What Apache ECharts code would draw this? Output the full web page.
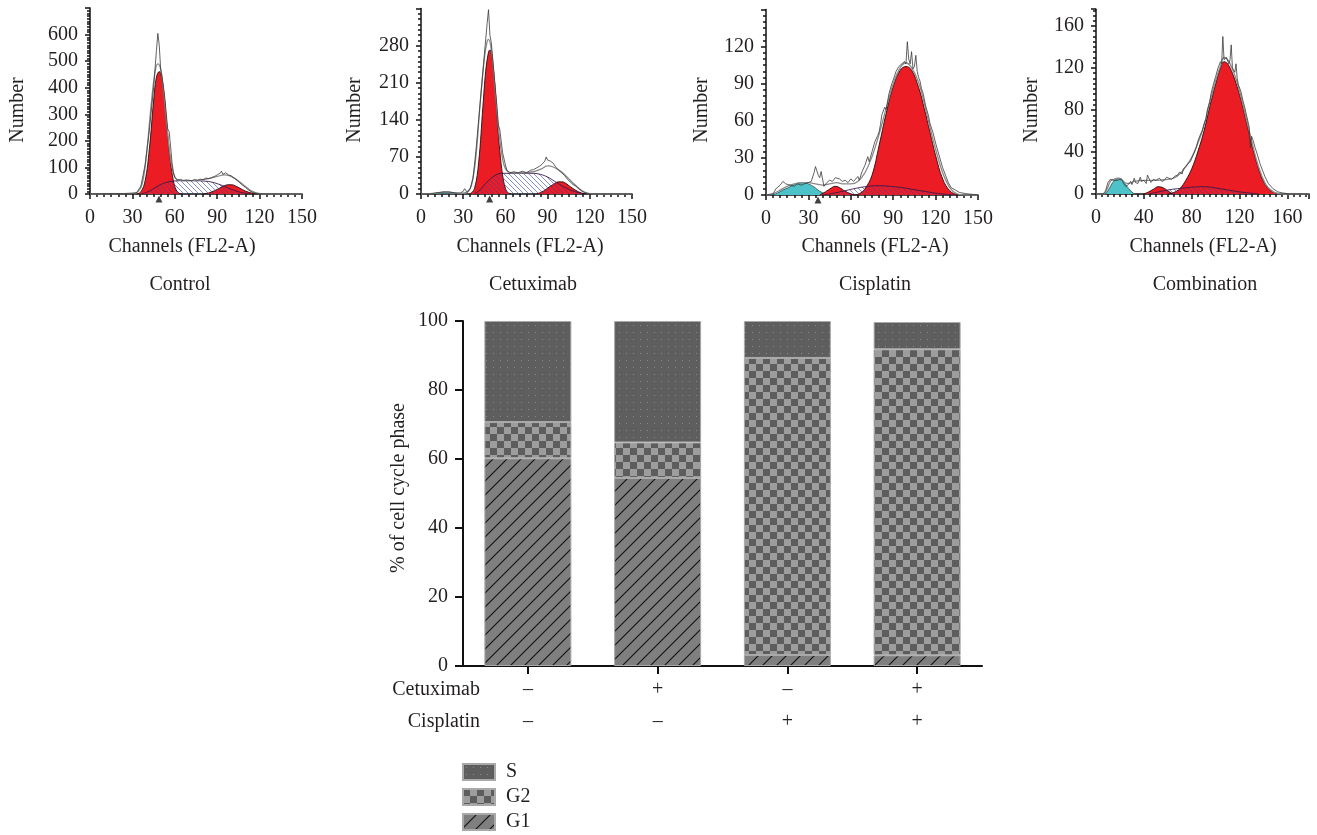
<!DOCTYPE html>
<html>
<head>
<meta charset="utf-8">
<script src="https://cdn.jsdelivr.net/npm/echarts@6/dist/echarts.min.js"></script>
<style>
html,body{margin:0;padding:0;background:#fff;}
#chart{width:1317px;height:835px;}
</style>
</head>
<body>
<div id="chart"></div>
<script>
// ---------------- DATA ----------------
// Histogram panels: [channel, count]
const ctrlRaw = [[0,0],[5,1],[10,1],[15,2],[20,2],[25,2],[30,3],[33,5],[36,30],[39,110],[42,240],[45,400],[47,540],[48,605],[49,560],[50,470],[51,440],[53,360],[54,300],[55,245],[56,235],[57,180],[58,120],[59,80],[60,62],[62,52],[64,55],[66,50],[68,53],[70,52],[72,50],[74,55],[76,52],[78,56],[80,54],[82,60],[84,58],[86,62],[88,66],[90,72],[92,78],[93,86],[94,74],[96,80],[98,72],[100,68],[102,60],[104,52],[106,42],[108,33],[110,25],[112,16],[114,9],[116,4],[118,2],[120,1],[125,0],[150,0]];
const ctrlFit = [[0,0],[30,2],[34,8],[37,40],[40,150],[43,320],[46,460],[48,490],[50,470],[52,390],[54,280],[56,175],[58,100],[60,65],[62,54],[66,51],[72,50],[78,52],[84,58],[90,66],[95,72],[98,70],[102,60],[106,45],[110,28],[114,12],[118,4],[122,0],[150,0]];
const ctrlG1 = [[33,0],[36,8],[39,50],[42,170],[45,350],[47,440],[49,461],[51,430],[53,340],[55,220],[57,120],[59,50],[61,15],[63,3],[65,0]];
const ctrlS = [[36,0],[40,6],[44,17],[48,30],[52,40],[56,46],[60,49],[66,50],[74,50],[82,48],[86,45],[90,39],[94,31],[98,22],[102,14],[106,7],[110,3],[114,0]];
const ctrlG2 = [[80,0],[84,4],[88,12],[92,23],[95,31],[98,35],[100,35],[103,30],[106,22],[110,11],[114,4],[118,0]];
const ctrlSub = [];
const ctrlGate = [[48.8,0]];

const cetRaw = [[0,0],[6,0],[10,2],[13,3],[16,4],[20,4],[24,2],[28,2],[30,5],[31,10],[33,3],[35,10],[37,30],[39,80],[41,140],[43,200],[45,262],[47,322],[48,348],[49,300],[50,285],[52,225],[54,165],[55,130],[56,122],[57,100],[58,78],[60,55],[61,45],[63,40],[66,42],[69,40],[72,43],[75,40],[78,45],[80,46],[82,49],[84,52],[86,56],[88,62],[89,70],[90,64],[92,62],[94,58],[96,50],[98,45],[100,40],[102,35],[104,28],[106,23],[108,18],[110,15],[112,10],[114,6],[116,3],[118,1],[120,0],[150,0]];
const cetFit = [[0,0],[10,1],[16,3],[22,2],[28,1],[33,4],[36,18],[39,70],[42,170],[45,255],[47,288],[48,292],[50,272],[52,218],[54,155],[56,102],[58,66],[60,48],[63,41],[70,40],[80,42],[86,48],[90,53],[94,51],[98,45],[102,37],[106,26],[110,16],[114,7],[118,2],[122,0],[150,0]];
const cetG1 = [[35,0],[38,10],[41,60],[44,165],[46,232],[48,268],[49,272],[50,265],[52,220],[54,150],[56,82],[58,36],[60,11],[62,2],[64,0]];
const cetS = [[38,0],[42,8],[46,20],[50,30],[54,37],[57,39],[70,39],[80,39],[85,37],[90,32],[95,24],[100,16],[105,9],[110,4],[115,0]];
const cetG2 = [[82,0],[86,4],[90,11],[94,18],[98,23],[100,23],[103,20],[106,14],[110,7],[114,2],[118,0]];
const cetSub = [[8,0],[12,2],[16,3.5],[20,3.5],[24,2],[28,0]];
const cetGate = [[48.8,0]];

const cisRaw = [[0,0],[5,1],[7,5],[10,8],[12,11],[14,9],[17,8],[20,7],[22,9],[25,8],[27,9],[30,10],[32,11],[34,18],[35,23],[36,24],[37,16],[38,14],[39,19],[41,7],[43,10],[45,12],[47,11],[49,14],[52,13],[54,11],[56,12],[58,10],[60,13],[62,11],[63,10],[65,15],[66,12],[68,19],[70,24],[72,31],[73,27],[75,35],[77,43],[79,48],[80,51],[81,57],[82,65],[84,71],[85,69],[87,82],[89,90],[90,93],[92,100],[94,104],[96,106],[98,108],[99,106],[100,124],[101,110],[102,106],[103,116],[104,102],[105,104],[106,113],[107,100],[108,95],[109,92],[110,86],[111,83],[113,72],[115,64],[116,58],[118,51],[120,42],[121,38],[123,30],[125,22],[127,16],[129,10],[131,6],[134,4],[137,2],[142,1],[150,0]];
const cisFit = [[0,0],[5,1],[10,4],[15,7],[20,9],[25,10],[30,10],[35,9],[40,8],[45,9],[50,10],[55,9],[60,9],[65,11],[70,18],[75,31],[80,49],[85,70],[90,90],[95,103],[99,107],[103,103],[108,91],[112,74],[116,55],[120,37],[125,18],[130,6],[135,1],[140,0],[150,0]];
const cisSub = [[4,0],[8,1.5],[12,4],[16,6],[20,8.5],[24,9.8],[27,10],[30,9],[34,6.5],[38,3],[42,1],[45,0]];
const cisG1 = [[38,0],[42,2.5],[46,5.5],[49,7],[52,6],[56,3],[60,1],[63,0]];
const cisS = [[40,0],[48,1.5],[56,3.5],[64,5.5],[72,7],[80,7.5],[88,7],[96,6],[104,4.5],[112,3],[120,1.5],[128,0.5],[134,0]];
const cisG2 = [[62,0],[66,1],[70,5],[75,16],[80,40],[85,66],[90,88],[95,101],[99,104],[103,101],[108,87],[112,70],[116,51],[120,32],[125,13],[130,3.5],[135,0.5],[140,0]];
const cisGate = [[36.8,0]];

const comRaw = [[0,0],[6,0],[8,3],[10,11],[12,14],[13,15],[15,13],[16,14],[18,13],[20,14],[22,13],[23,10],[25,7],[26,6],[27,9],[29,12],[30,9],[32,15],[33,11],[35,10],[37,16],[38,12],[40,13],[42,10],[43,18],[45,13],[46,11],[48,14],[50,13],[53,15],[55,12],[57,13],[59,16],[61,15],[63,14],[66,17],[68,18],[70,21],[72,19],[73,24],[75,26],[77,29],[79,31],[80,34],[82,39],[84,45],[85,50],[87,56],[89,61],[90,66],[92,72],[93,80],[95,88],[96,95],[98,104],[100,112],[102,120],[104,126],[105,124],[106,150],[107,128],[109,130],[111,124],[112,128],[113,142],[114,120],[116,116],[117,124],[118,110],[119,104],[121,98],[123,88],[124,84],[126,74],[128,64],[129,44],[130,55],[131,52],[133,44],[135,37],[137,29],[139,23],[141,17],[144,10],[148,5],[152,2],[156,1],[162,0],[178,0]];
const comFit = [[0,0],[6,0],[9,4],[12,12],[15,14],[18,15],[21,14],[24,11],[27,10],[32,12],[40,13],[50,13],[60,14],[65,15],[70,19],[75,26],[80,35],[85,48],[90,64],[95,87],[100,108],[104,122],[107,130],[110,128],[114,119],[118,106],[122,89],[126,70],[130,51],[134,33],[138,19],[142,9],[146,4],[150,1],[156,0],[178,0]];
const comSub = [[8,0],[11,5],[14,11],[17,14],[20,15],[23,12],[26,7],[29,3],[32,0]];
const comG1 = [[40,0],[44,2],[48,4.5],[52,7],[56,6],[60,3],[64,0]];
const comS = [[44,0],[50,1.5],[56,3],[64,4.5],[72,5.5],[80,6.5],[88,7],[96,6.5],[104,5],[112,3.5],[120,2],[128,1],[136,0]];
const comG2 = [[60,0],[65,1.5],[70,5],[75,13],[80,24],[85,40],[90,59],[95,83],[100,105],[104,120],[107,126],[110,124],[114,115],[118,102],[122,86],[126,67],[130,48],[134,31],[138,17],[142,8],[146,3],[150,1],[154,0]];
const comGate = [];

const panelTitles = ['Control', 'Cetuximab', 'Cisplatin', 'Combination'];

// Bar chart (% of cell cycle phase)
const cetuximabRow = ['–', '+', '–', '+'];
const cisplatinRow = ['–', '–', '+', '+'];
const phaseG1 = [60.2, 54.5, 3.2, 3.1];
const phaseG2 = [10.5, 10.3, 86.1, 88.7];
const phaseS  = [29.3, 35.2, 10.7, 7.9];
const legendNames = ['S', 'G2', 'G1'];

// ---------------- STYLE ----------------
const FONT = "'Liberation Serif', 'Times New Roman', serif";
const TXT = '#231f20';
const RED = '#ec1c24';
const CYAN = '#4ec2c9';

function canvas(w, h, draw) {
  const c = document.createElement('canvas');
  c.width = w; c.height = h;
  draw(c.getContext('2d'), w, h);
  return c;
}
const hatchPat = { image: canvas(5, 5, (g, w, h) => {
  g.strokeStyle = 'rgba(55,65,170,0.85)'; g.lineWidth = 0.7;
  g.beginPath(); g.moveTo(0, 0); g.lineTo(w, h);
  g.moveTo(-1, h - 1); g.lineTo(1, h + 1); g.moveTo(w - 1, -1); g.lineTo(w + 1, 1); g.stroke();
}), repeat: 'repeat' };
const patS = { image: canvas(7, 7, (g) => {
  g.fillStyle = '#5e5e5e'; g.fillRect(0, 0, 7, 7);
  g.fillStyle = '#8a8a8a'; g.fillRect(3, 3, 1, 1);
}), repeat: 'repeat' };
const patG2 = { image: canvas(14, 14, (g) => {
  g.fillStyle = '#9d9d9d'; g.fillRect(0, 0, 14, 14);
  g.fillStyle = '#5d5d5d'; g.fillRect(0, 0, 7, 7); g.fillRect(7, 7, 7, 7);
}), repeat: 'repeat' };
const patG1 = { image: canvas(14, 14, (g, w, h) => {
  g.fillStyle = '#7f7f7f'; g.fillRect(0, 0, w, h);
  g.strokeStyle = '#111'; g.lineWidth = 1.1;
  g.beginPath(); g.moveTo(0, h); g.lineTo(w, 0);
  g.moveTo(-1, 1); g.lineTo(1, -1); g.moveTo(w - 1, h + 1); g.lineTo(w + 1, h - 1); g.stroke();
}), repeat: 'repeat' };

// panel layout
const layout = [
  { left: 90,   top: 8.1, width: 212, height: 185.9, xmax: 150, xint: 30, xminor: 6, ymax: 700, yint: 100, yminor: 10 },
  { left: 421,  top: 8.6, width: 211, height: 185.4, xmax: 150, xint: 30, xminor: 6, ymax: 350, yint: 70,  yminor: 7 },
  { left: 766,  top: 9.6, width: 212, height: 185.4, xmax: 150, xint: 30, xminor: 6, ymax: 150, yint: 30,  yminor: 6 },
  { left: 1096, top: 9.2, width: 213, height: 184.8, xmax: 178, xint: 40, xminor: 8, ymax: 176, yint: 40,  yminor: 8 }
];
const panelData = [
  { raw: ctrlRaw, fit: ctrlFit, g1: ctrlG1, s: ctrlS, g2: ctrlG2, sub: ctrlSub, gate: ctrlGate, subColor: CYAN },
  { raw: cetRaw, fit: cetFit, g1: cetG1, s: cetS, g2: cetG2, sub: cetSub, gate: cetGate, subColor: '#2f6f78' },
  { raw: cisRaw, fit: cisFit, g1: cisG1, s: cisS, g2: cisG2, sub: cisSub, gate: cisGate, subColor: CYAN },
  { raw: comRaw, fit: comFit, g1: comG1, s: comS, g2: comG2, sub: comSub, gate: comGate, subColor: CYAN }
];

const grids = [], xAxes = [], yAxes = [], series = [], graphics = [];
const axisLineStyle = { color: '#111', width: 1.5 };
const labelStyle = { fontFamily: FONT, fontSize: 20, color: TXT };

layout.forEach((L, i) => {
  grids.push({ left: L.left, top: L.top, width: L.width, height: L.height });
  xAxes.push({
    type: 'value', gridIndex: i, min: 0, max: L.xmax, interval: L.xint,
    axisLine: { show: true, onZero: false, lineStyle: axisLineStyle },
    axisTick: { show: true, length: 5, lineStyle: { color: '#111', width: 1.5 } },
    minorTick: { show: true, splitNumber: L.xminor, length: 3, lineStyle: { color: '#111', width: 1.5 } },
    splitLine: { show: false },
    axisLabel: Object.assign({ margin: 14, showMaxLabel: L.xmax % L.xint === 0 }, labelStyle)
  });
  yAxes.push({
    type: 'value', gridIndex: i, min: 0, max: L.ymax, interval: L.yint,
    axisLine: { show: true, onZero: false, lineStyle: axisLineStyle },
    axisTick: { show: true, length: 5, lineStyle: { color: '#111', width: 1.5 } },
    minorTick: { show: true, splitNumber: L.yminor, length: 3, lineStyle: { color: '#111', width: 1.5 } },
    splitLine: { show: false },
    axisLabel: Object.assign({ margin: 12, showMaxLabel: false }, labelStyle)
  });
  const D = panelData[i];
  const base = { type: 'line', xAxisIndex: i, yAxisIndex: i, showSymbol: false, symbol: 'none', silent: true, animation: false };
  if (D.sub.length) series.push(Object.assign({}, base, { name: 'p' + i + 'sub', data: D.sub, smooth: 0.4, z: 2,
    lineStyle: { color: '#1d4f55', width: 0.8 }, areaStyle: { color: D.subColor, opacity: 1 } }));
  series.push(Object.assign({}, base, { name: 'p' + i + 'g1', data: D.g1, smooth: 0.4, z: 3,
    lineStyle: { color: '#2a0a0a', width: 0.9 }, areaStyle: { color: RED, opacity: 1 } }));
  series.push(Object.assign({}, base, { name: 'p' + i + 'g2', data: D.g2, smooth: 0.4, z: 3,
    lineStyle: { color: '#2a0a0a', width: 0.9 }, areaStyle: { color: RED, opacity: 1 } }));
  series.push(Object.assign({}, base, { name: 'p' + i + 's', data: D.s, smooth: 0.4, z: 4,
    lineStyle: { color: '#3a1a4a', width: 0.9 }, areaStyle: { color: hatchPat, opacity: 1 } }));
  series.push(Object.assign({}, base, { name: 'p' + i + 'fit', data: D.fit, smooth: 0.4, z: 5,
    lineStyle: { color: '#8a8a8a', width: 1.3 } }));
  series.push(Object.assign({}, base, { name: 'p' + i + 'raw', data: D.raw, smooth: false, z: 6,
    lineStyle: { color: '#3a3a3a', width: 0.8 } }));
  if (D.gate.length) series.push({
    type: 'scatter', name: 'p' + i + 'gate', xAxisIndex: i, yAxisIndex: i, silent: true, animation: false,
    clip: false, z: 8, symbol: 'triangle', symbolSize: [7, 7], symbolOffset: [0, 5],
    itemStyle: { color: '#111' }, data: D.gate
  });

  const cx = [182, 530, 875, 1203][i];
  const nx = [18, 355, 702, 1032][i];
  graphics.push({ type: 'text', x: nx, y: 110, rotation: Math.PI / 2,
    style: { text: 'Number', font: '20px ' + FONT, fill: TXT, textAlign: 'center', textVerticalAlign: 'middle' } });
  graphics.push({ type: 'text', x: cx, y: 247,
    style: { text: 'Channels (FL2-A)', font: '20px ' + FONT, fill: TXT, textAlign: 'center', textVerticalAlign: 'middle' } });
  graphics.push({ type: 'text', x: [180, 533, 875, 1205][i], y: 285,
    style: { text: panelTitles[i], font: '20px ' + FONT, fill: TXT, textAlign: 'center', textVerticalAlign: 'middle' } });
});

// Bar chart grid (index 4)
const categories = cetuximabRow.map((c, k) => c + '\n' + cisplatinRow[k]);
grids.push({ left: 463, top: 321, width: 519, height: 345 });
xAxes.push({
  type: 'category', gridIndex: 4, data: categories,
  axisLine: { show: true, lineStyle: { color: '#111', width: 2 } },
  axisTick: { show: true, alignWithLabel: true, length: 8, lineStyle: { color: '#111', width: 2 } },
  axisLabel: { margin: 8, fontFamily: FONT, fontSize: 20, color: TXT, lineHeight: 32 }
});
yAxes.push({
  type: 'value', gridIndex: 4, min: 0, max: 100, interval: 20,
  axisLine: { show: true, lineStyle: { color: '#111', width: 2 } },
  axisTick: { show: true, length: 8, lineStyle: { color: '#111', width: 2 } },
  splitLine: { show: false },
  axisLabel: { margin: 15, fontFamily: FONT, fontSize: 20, color: TXT }
});
const barBase = { type: 'bar', stack: 'phase', xAxisIndex: 4, yAxisIndex: 4, barWidth: 87, animation: false };
series.push(Object.assign({}, barBase, { name: 'G1', data: phaseG1,
  itemStyle: { color: patG1, borderColor: '#a9a9a9', borderWidth: 1 } }));
series.push(Object.assign({}, barBase, { name: 'G2', data: phaseG2,
  itemStyle: { color: patG2, borderColor: '#a9a9a9', borderWidth: 1 } }));
series.push(Object.assign({}, barBase, { name: 'S', data: phaseS,
  itemStyle: { color: patS, borderColor: '#a9a9a9', borderWidth: 1 } }));

graphics.push({ type: 'text', x: 399, y: 488, rotation: Math.PI / 2,
  style: { text: '% of cell cycle phase', font: '20px ' + FONT, fill: TXT, textAlign: 'center', textVerticalAlign: 'middle' } });
graphics.push({ type: 'text', x: 480, y: 690,
  style: { text: 'Cetuximab', font: '20px ' + FONT, fill: TXT, textAlign: 'right', textVerticalAlign: 'middle' } });
graphics.push({ type: 'text', x: 480, y: 722,
  style: { text: 'Cisplatin', font: '20px ' + FONT, fill: TXT, textAlign: 'right', textVerticalAlign: 'middle' } });

// one legend block per phase, stacked vertically
const legends = legendNames.map((nm, k) => ({
  data: [nm], orient: 'vertical', left: 462, top: 762 + k * 25, padding: 0,
  itemWidth: 32, itemHeight: 16, selectedMode: false, icon: 'rect',
  textStyle: { fontFamily: FONT, fontSize: 20, color: TXT, padding: [0, 0, 0, 6] }
}));

const chart = echarts.init(document.getElementById('chart'), null, { renderer: 'canvas' });
chart.setOption({
  backgroundColor: '#fff',
  animation: false,
  grid: grids,
  xAxis: xAxes,
  yAxis: yAxes,
  legend: legends,
  graphic: graphics,
  series: series
});
</script>
</body>
</html>
